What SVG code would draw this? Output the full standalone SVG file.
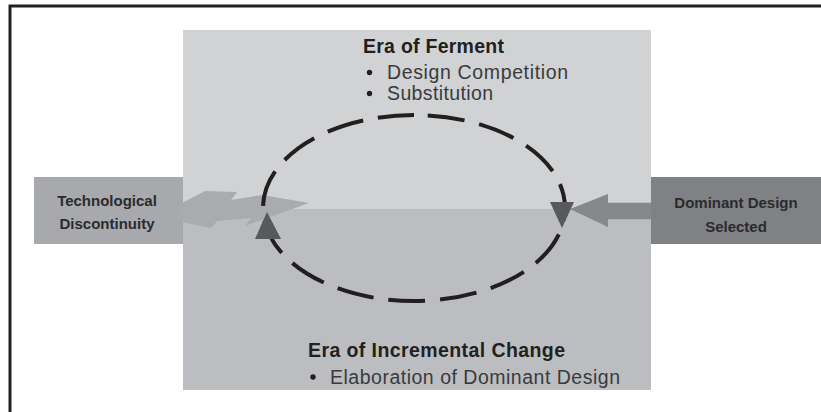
<svg xmlns="http://www.w3.org/2000/svg" width="821" height="412" viewBox="0 0 821 412">
  <defs>
    <style>
      .title { font-family: "Liberation Sans", Arial, sans-serif; font-weight: bold; font-size: 19.5px; fill: #231f20; }
      .item { font-family: "Liberation Sans", Arial, sans-serif; font-size: 19.5px; fill: #3a3a3c; }
      .label { font-family: "Liberation Sans", Arial, sans-serif; font-weight: bold; font-size: 15px; fill: #2b2b2d; text-anchor: middle; }
      .dot { fill: #231f20; }
      .cycle { fill: none; stroke: #231f20; stroke-width: 4; stroke-dasharray: 37 14.9; stroke-dashoffset: 38; }
      .head { fill: #58595b; }
    </style>
  </defs>
  <rect width="821" height="412" fill="#ffffff"/>
  <!-- outer frame -->
  <path d="M10,412 V6 H821" fill="none" stroke="#231f20" stroke-width="3"/>

  <g id="era-of-ferment">
    <rect x="183" y="30" width="468" height="179" fill="#d1d2d4"/>
    <text class="title" x="363" y="53" textLength="141">Era of Ferment</text>
    <circle class="dot" cx="369.5" cy="72.5" r="2.7"/>
    <text class="item" x="387" y="79" textLength="181">Design Competition</text>
    <circle class="dot" cx="369.5" cy="93.5" r="2.7"/>
    <text class="item" x="387" y="100" textLength="106">Substitution</text>
  </g>

  <g id="era-of-incremental-change">
    <rect x="183" y="209" width="468" height="181" fill="#bcbdc1"/>
    <text class="title" x="308" y="357" textLength="257">Era of Incremental Change</text>
    <circle class="dot" cx="313" cy="377" r="2.7"/>
    <text class="item" x="330" y="383.5" textLength="290">Elaboration of Dominant Design</text>
  </g>

  <g id="technological-discontinuity">
    <rect x="34" y="177" width="149" height="67" fill="#a7a9ac"/>
    <text class="label" x="107" y="206">Technological</text>
    <text class="label" x="107" y="229">Discontinuity</text>
  </g>

  <g id="dominant-design-selected">
    <rect x="651" y="177" width="170" height="67" fill="#808184"/>
    <text class="label" x="736" y="208">Dominant Design</text>
    <text class="label" x="736" y="232">Selected</text>
  </g>

  <g id="connectors">
    <!-- lightning bolt -->
    <polygon points="182,203 205,191 237,192 231,200 262,195 309,203 245,226 251,218 217,221 211,228 182,222" fill="#a9abae"/>
    <!-- dominant design arrow -->
    <polygon points="651,202.7 608,202.7 608,194 570,209 608,227 608,219.3 651,219.3" fill="#87888b"/>
    <!-- dashed cycle -->
    <path class="cycle" d="M414,115 A151,93 0 0 1 414,301 A151,93 0 0 1 414,115 Z"/>
    <!-- cycle arrowheads -->
    <polygon class="head" points="267,212 255,239 281,239"/>
    <polygon class="head" points="550,202 574,202 562,228"/>
  </g>
</svg>
